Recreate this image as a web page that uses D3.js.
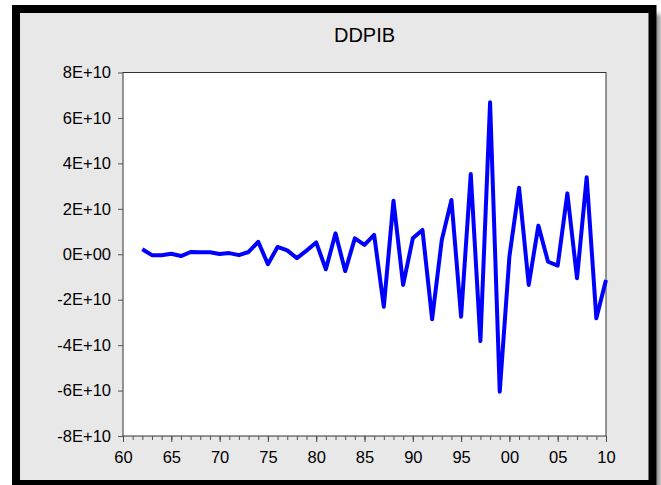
<!DOCTYPE html>
<html>
    <head>
        <meta charset="UTF-8"/>
        <style>
            body { margin: 0; background: #fff; }
            text { font-family: "Liberation Sans", Arial, sans-serif; }
        </style>
    </head>
    <body>
        <svg width="661" height="485"></svg>
        <script src="https://d3js.org/d3.v7.min.js" type="text/javascript"></script>
        <script>
            // DDPIB, yearly 1962-2010
            let years = d3.range(1962, 2011);
            let ddpib = [2.2, -0.4, -0.4, 0.2, -0.8, 1.0, 0.9, 0.9, 0.1, 0.5,
                         -0.4, 1.0, 5.5, -4.4, 3.2, 1.7, -1.7, 1.6, 5.2, -6.6,
                         9.2, -7.4, 7.0, 4.1, 8.5, -23.1, 23.6, -13.5, 7.0, 10.7,
                         -28.6, 6.3, 23.9, -27.5, 35.3, -38.2, 66.9, -60.5, -1.0, 29.3,
                         -13.5, 12.6, -3.3, -5.0, 26.8, -10.6, 33.9, -28.2, -11.3].map(v => v * 1e9);
            let yTicks = [-8e10, -6e10, -4e10, -2e10, 0, 2e10, 4e10, 6e10, 8e10];
            let yTickLabels = ["-8E+10", "-6E+10", "-4E+10", "-2E+10", "0E+00", "2E+10", "4E+10", "6E+10", "8E+10"];
            let xTicks = d3.range(1960, 2011, 5);
            let xTickLabels = ["60", "65", "70", "75", "80", "85", "90", "95", "00", "05", "10"];
            let title = "DDPIB";

            let svg = d3.select("svg");
            let plotL = 123, plotR = 606, plotT = 72.5, plotB = 436;

            // frame with shadow
            let defs = svg.append("defs");
            defs.append("filter").attr("id", "blur")
                .append("feGaussianBlur").attr("stdDeviation", 2);
            svg.append("rect")
                .attr("x", 20).attr("y", 14).attr("width", 641).attr("height", 480)
                .attr("fill", "#9a9a9a")
                .attr("filter", "url(#blur)");
            svg.append("rect")
                .attr("x", 16).attr("y", 9).attr("width", 636.5).attr("height", 475)
                .attr("fill", "#e8e8e8")
                .attr("stroke", "#000")
                .attr("stroke-width", 8);

            let x = d3.scaleLinear().domain([1960, 2010]).range([plotL, plotR]);
            let y = d3.scaleLinear().domain([-8e10, 8e10]).range([plotB, plotT]);

            svg.append("rect")
                .attr("x", plotL).attr("y", plotT)
                .attr("width", plotR - plotL).attr("height", plotB - plotT)
                .attr("fill", "#fff")
                .attr("stroke", "#333")
                .attr("stroke-width", 1);

            let yAxis = svg.append("g")
                .attr("transform", "translate(" + plotL + ",0)")
                .call(d3.axisLeft(y).tickValues(yTicks).tickSize(5).tickPadding(7)
                    .tickFormat((d, i) => yTickLabels[i]));
            yAxis.select(".domain").remove();
            yAxis.selectAll("line").attr("stroke", "#555");
            yAxis.selectAll("text").attr("font-size", 16.5).attr("fill", "#000")
                .style("font-family", "'Liberation Sans', Arial, sans-serif");

            // minor year ticks
            let xMinor = svg.append("g")
                .attr("transform", "translate(0," + plotB + ")")
                .call(d3.axisBottom(x).tickValues(d3.range(1960, 2011)).tickSize(4).tickFormat(""));
            xMinor.select(".domain").remove();
            xMinor.selectAll("line").attr("stroke", "#555");

            let xAxis = svg.append("g")
                .attr("transform", "translate(0," + plotB + ")")
                .call(d3.axisBottom(x).tickValues(xTicks).tickSize(6).tickPadding(9)
                    .tickFormat((d, i) => xTickLabels[i]));
            xAxis.select(".domain").remove();
            xAxis.selectAll("line").attr("stroke", "#444");
            xAxis.selectAll("text").attr("font-size", 16.5).attr("fill", "#000")
                .style("font-family", "'Liberation Sans', Arial, sans-serif");

            let line = d3.line()
                .x((d, i) => x(years[i]))
                .y(d => y(d));
            svg.append("path")
                .datum(ddpib)
                .attr("d", line)
                .attr("fill", "none")
                .attr("stroke", "#0000ff")
                .attr("stroke-width", 4)
                .attr("stroke-linejoin", "round");

            svg.append("text")
                .attr("x", (plotL + plotR) / 2)
                .attr("y", 42)
                .attr("text-anchor", "middle")
                .attr("font-size", 20)
                .attr("fill", "#000")
                .text(title);
        </script>
    </body>
</html>
